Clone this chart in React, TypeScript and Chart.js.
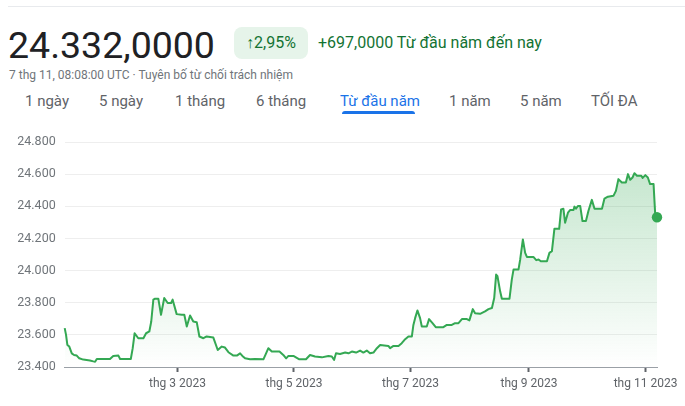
import React, { useEffect, useRef } from "react";
import { Chart, registerables } from "chart.js";

Chart.register(...registerables);

// Days since 1 Jan 2023 (up to 7 Nov 2023)
const days: number[] = [
  0, 0.7, 1.4, 2.4, 3.7, 4.9, 6.3, 7.6, 9.7, 13.2, 15.0, 15.9, 16.8, 23.7, 25.4, 28.1, 29.0, 34.6, 35.6, 36.6,
  38.5, 41.2, 42.6, 44.3, 45.3, 46.4, 47.3, 49.0, 50.4, 52.1, 53.9, 55.7, 56.5, 58.6, 61.3, 62.6, 63.9, 65.6,
  67.3, 69.1, 70.5, 72.6, 74.3, 77.8, 80.1, 82.2, 83.9, 85.7, 88.3, 90.1, 91.8, 93.0, 94.4, 97.0, 99.6, 104.0,
  105.4, 106.6, 108.4, 112.4, 114.4, 115.9, 117.1, 119.7, 122.8, 126.3, 128.4, 131.0, 134.6, 138.0, 139.8,
  141.0, 142.0, 144.1, 146.8, 148.5, 150.3, 152.5, 154.6, 156.3, 158.1, 159.8, 161.6, 163.4, 165.1, 169.4,
  170.3, 172.1, 174.7, 176.4, 178.2, 179.9, 181.7, 182.5, 183.4, 184.6, 186.0, 186.9, 189.5, 190.7, 192.5,
  194.2, 198.2, 200.0, 202.6, 204.3, 206.1, 207.9, 210.5, 211.8, 213.6, 214.8, 217.4, 220.0, 221.8, 223.6,
  224.8, 225.8, 226.5, 227.9, 228.8, 232.8, 234.0, 234.9, 237.5, 238.4, 239.8, 241.0, 241.9, 245.3, 246.8,
  248.0, 249.2, 252.4, 253.7, 255.0, 256.3, 258.8, 259.8, 261.0, 261.9, 263.4, 264.6, 266.3, 266.8, 267.6,
  268.6, 269.8, 271.0, 272.8, 274.1, 275.9, 277.3, 281.2, 282.5, 284.3, 287.2, 288.5, 289.8, 291.6, 293.7,
  294.8, 296.0, 297.2, 298.2, 299.5, 301.8, 302.5, 303.9, 305.2, 306.4, 308.2, 309.1, 310.0,
];

// USD/VND rate
const rates: number[] = [
  23642, 23600, 23537, 23527, 23485, 23475, 23471, 23454, 23446, 23440, 23435, 23433, 23450, 23450, 23469, 23471, 23450, 23450, 23517, 23610,
  23579, 23579, 23610, 23621, 23683, 23819, 23825, 23825, 23725, 23829, 23798, 23798, 23819, 23729, 23725, 23725, 23652, 23721,
  23683, 23679, 23590, 23579, 23590, 23583, 23506, 23527, 23521, 23492, 23471, 23471, 23485, 23469, 23454, 23448, 23450, 23448,
  23485, 23517, 23496, 23496, 23475, 23454, 23469, 23469, 23448, 23448, 23475, 23465, 23460, 23469, 23465,
  23444, 23485, 23481, 23490, 23485, 23496, 23490, 23502, 23490, 23502, 23485, 23490, 23517, 23537, 23531,
  23517, 23531, 23531, 23548, 23573, 23590, 23590, 23662, 23704, 23752, 23704, 23652, 23652, 23698, 23673,
  23648, 23648, 23662, 23662, 23673, 23673, 23698, 23698, 23690, 23760, 23735, 23731, 23746, 23760, 23767,
  23829, 23975, 23965, 23871, 23825, 23825, 23944, 24006, 24006, 24069, 24194, 24110, 24085, 24085, 24065,
  24069, 24058, 24058, 24110, 24121, 24260, 24260, 24381, 24385, 24298, 24360, 24377, 24377, 24398, 24385,
  24402, 24402, 24308, 24308, 24371, 24440, 24385, 24385, 24448, 24460, 24465, 24496, 24569, 24548, 24548,
  24600, 24565, 24579, 24606, 24590, 24590, 24577, 24594, 24579, 24538, 24538, 24340, 24332,
];

const tickDays: number[] = [59, 120, 181, 243, 304];
const tickLabels: string[] = ["thg 3 2023", "thg 5 2023", "thg 7 2023", "thg 9 2023", "thg 11 2023"];
const yMin = 23400;
const yMax = 24800;
const yStep = 200;

const tabs: string[] = ["1 ngày", "5 ngày", "1 tháng", "6 tháng", "Từ đầu năm", "1 năm", "5 năm", "TỐI ĐA"];
const tabLeft: number[] = [25, 99, 175, 256, 340, 449, 520, 591];
const activeTab = 4;

const GREEN = "#34a853";
const FONT = "Roboto, Arial, sans-serif";

function fmt(v: number): string {
  const th = Math.floor(v / 1000);
  const rest = String(Math.round(v % 1000)).padStart(3, "0");
  return `${th}.${rest}`;
}

function ChartCanvas() {
  const ref = useRef<HTMLCanvasElement | null>(null);
  useEffect(() => {
    if (!ref.current) return;
    const last = rates.length - 1;
    const chart = new Chart(ref.current, {
      type: "line",
      data: {
        datasets: [
          {
            data: days.map((d, i) => ({ x: d, y: rates[i] })),
            borderColor: GREEN,
            borderWidth: 2,
            tension: 0,
            fill: "start",
            clip: false,
            borderJoinStyle: "round",
            backgroundColor: (ctx: any) => {
              const area = ctx.chart.chartArea;
              if (!area) return "rgba(52,168,83,0.1)";
              const g = ctx.chart.ctx.createLinearGradient(0, area.top, 0, area.bottom);
              g.addColorStop(0, "rgba(52,168,83,0.32)");
              g.addColorStop(1, "rgba(52,168,83,0)");
              return g;
            },
            pointRadius: (ctx: any) => (ctx.dataIndex === last ? 5.2 : 0),
            pointBackgroundColor: GREEN,
            pointBorderColor: GREEN,
            pointBorderWidth: 0,
            pointHoverRadius: 0,
          },
        ],
      },
      options: {
        animation: false,
        responsive: false,
        maintainAspectRatio: false,
        layout: { padding: { left: 0, right: 28, top: 17, bottom: 0 } },
        plugins: { legend: { display: false }, tooltip: { enabled: false } },
        scales: {
          x: {
            type: "linear",
            min: 0,
            max: 310,
            afterBuildTicks: (scale: any) => {
              scale.ticks = tickDays.map((v) => ({ value: v }));
            },
            afterFit: (scale: any) => {
              scale.height = 39;
            },
            grid: {
              drawOnChartArea: false,
              drawTicks: true,
              tickLength: 5,
              tickColor: "#5f6368",
              tickWidth: 2,
            },
            border: { display: true, color: "#9aa0a6", width: 1 },
            ticks: {
              autoSkip: false,
              maxRotation: 0,
              padding: 5,
              color: "#5f6368",
              font: { family: FONT, size: 12 },
              callback: (_v: any, i: number) => tickLabels[i],
            },
          },
          y: {
            type: "linear",
            min: yMin,
            max: yMax,
            afterFit: (scale: any) => {
              scale.width = 64.7;
            },
            grid: { color: "#eeeeee", drawTicks: false, lineWidth: 1 },
            border: { display: false },
            ticks: {
              stepSize: yStep,
              padding: 9,
              color: "#70757a",
              font: { family: FONT, size: 12.5 },
              callback: (v: any) => fmt(Number(v)),
            },
          },
        },
      },
    } as any);
    return () => chart.destroy();
  }, []);
  return (
    <canvas
      ref={ref}
      width={685}
      height={281}
      style={{ position: "absolute", left: 0, top: 125, width: 685, height: 281 }}
    />
  );
}

export default function App() {
  return (
    <div
      style={{
        position: "absolute",
        left: 0,
        top: 0,
        width: 685,
        height: 406,
        background: "#fff",
        fontFamily: FONT,
        overflow: "hidden",
      }}
    >
      <div style={{ position: "absolute", left: 8, top: 6, width: 677, height: 1, background: "#e8eaed" }} />
      <div
        style={{
          position: "absolute",
          left: 8,
          top: 27,
          fontSize: 37.5,
          lineHeight: "37px",
          color: "#202124",
          whiteSpace: "nowrap",
        }}
      >
        24.332,0000
      </div>
      <div
        style={{
          position: "absolute",
          left: 234,
          top: 27,
          width: 74,
          height: 32,
          borderRadius: 8,
          background: "#e6f4ea",
          color: "#137333",
          fontSize: 16,
          lineHeight: "32px",
          textAlign: "center",
          whiteSpace: "nowrap",
        }}
      >
        ↑2,95%
      </div>
      <div
        style={{
          position: "absolute",
          left: 318,
          top: 35,
          fontSize: 16,
          lineHeight: "16px",
          color: "#137333",
          whiteSpace: "nowrap",
        }}
      >
        +697,0000 Từ đầu năm đến nay
      </div>
      <div
        style={{
          position: "absolute",
          left: 9,
          top: 69,
          fontSize: 12,
          lineHeight: "12px",
          color: "#70757a",
          whiteSpace: "nowrap",
        }}
      >
        7 thg 11, 08:08:00 UTC · Tuyên bố từ chối trách nhiệm
      </div>
      {tabs.map((t, i) => (
        <div
          key={t}
          style={{
            position: "absolute",
            left: tabLeft[i],
            top: 94,
            fontSize: 15,
            lineHeight: "15px",
            color: i === activeTab ? "#1a73e8" : "#5f6368",
            whiteSpace: "nowrap",
          }}
        >
          {t}
        </div>
      ))}
      <div
        style={{
          position: "absolute",
          left: 342,
          top: 111,
          width: 73,
          height: 3,
          borderRadius: "3px 3px 0 0",
          background: "#1a73e8",
        }}
      />
      <ChartCanvas />
    </div>
  );
}
